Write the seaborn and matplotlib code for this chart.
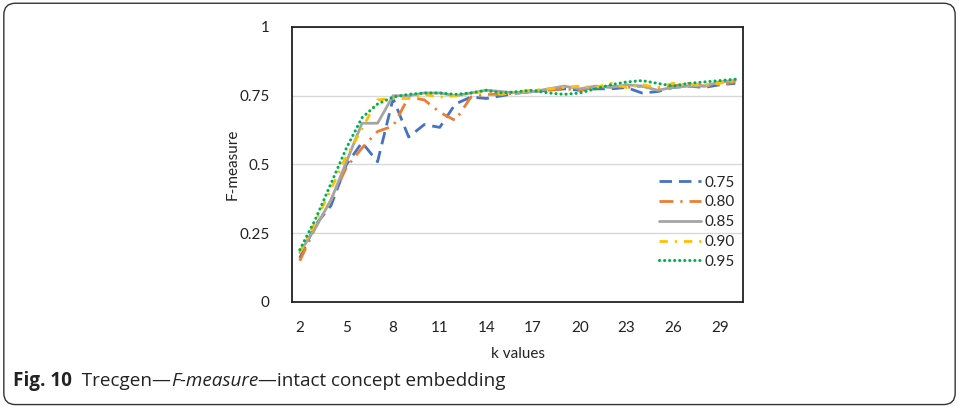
import matplotlib
matplotlib.use("Agg")
import matplotlib.pyplot as plt
from matplotlib.patches import FancyBboxPatch
import numpy as np
import pandas as pd
import seaborn as sns

# k values on the x axis
k_values = list(range(2, 31))

# F-measure per threshold
f_075 = [0.16, 0.28, 0.35, 0.50, 0.58, 0.51, 0.74, 0.60, 0.645, 0.635, 0.72, 0.745, 0.74, 0.75, 0.76,
         0.765, 0.77, 0.775, 0.77, 0.775, 0.775, 0.78, 0.76, 0.765, 0.78, 0.785, 0.78, 0.79, 0.795]
f_080 = [0.15, 0.27, 0.37, 0.49, 0.56, 0.62, 0.64, 0.745, 0.735, 0.69, 0.66, 0.745, 0.755, 0.755, 0.76,
         0.765, 0.77, 0.775, 0.77, 0.78, 0.785, 0.78, 0.785, 0.775, 0.785, 0.795, 0.785, 0.79, 0.80]
f_085 = [0.18, 0.27, 0.37, 0.51, 0.65, 0.65, 0.75, 0.75, 0.76, 0.76, 0.75, 0.76, 0.77, 0.765, 0.76,
         0.765, 0.775, 0.785, 0.775, 0.785, 0.78, 0.79, 0.785, 0.77, 0.78, 0.785, 0.785, 0.80, 0.805]
f_090 = [0.18, 0.29, 0.41, 0.53, 0.63, 0.735, 0.74, 0.74, 0.755, 0.745, 0.75, 0.76, 0.765, 0.755, 0.765,
         0.77, 0.775, 0.78, 0.785, 0.78, 0.795, 0.78, 0.79, 0.78, 0.795, 0.79, 0.79, 0.795, 0.805]
f_095 = [0.19, 0.30, 0.43, 0.56, 0.67, 0.72, 0.745, 0.755, 0.76, 0.76, 0.755, 0.76, 0.77, 0.76, 0.765,
         0.77, 0.76, 0.755, 0.76, 0.775, 0.79, 0.80, 0.805, 0.795, 0.785, 0.795, 0.80, 0.805, 0.81]

series_names = ["0.75", "0.80", "0.85", "0.90", "0.95"]
series_values = [f_075, f_080, f_085, f_090, f_095]

x_ticks = [2, 5, 8, 11, 14, 17, 20, 23, 26, 29]
y_ticks = [0, 0.25, 0.5, 0.75, 1]
y_tick_labels = ["0", "0.25", "0.5", "0.75", "1"]

colors = ["#4472C4", "#ED7D31", "#A5A5A5", "#FFC000", "#00B050"]
dash_patterns = [(4.5, 2.5), (5, 2.5, 0.8, 2.5), None, (3, 2.5, 0.8, 2.5), (0.05, 1.6)]

sns.set_theme(style="white")
plt.rcParams["font.family"] = ["Lato", "DejaVu Sans"]

fig = plt.figure(figsize=(9.59, 4.07), dpi=100)
ax = fig.add_axes([0.3045, 0.258, 0.4703, 0.6757])

df = pd.DataFrame({"k": k_values})
for name, vals in zip(series_names, series_values):
    df[name] = vals

long_df = df.melt(id_vars="k", var_name="threshold", value_name="F")

for name, col, dp in zip(series_names, colors, dash_patterns):
    sub = long_df[long_df["threshold"] == name]
    sns.lineplot(data=sub, x="k", y="F", ax=ax, color=col, linewidth=2.0,
                 label=name, legend=False)
    l = ax.lines[-1]
    if dp is not None:
        l.set_dashes(dp)
        if dp[0] < 0.2:
            l.set_dash_capstyle("round")
            l.set_linewidth(2.2)

ax.set_xlim(1.5, 30.5)
ax.set_ylim(0, 1)
ax.set_xticks(x_ticks)
ax.set_xticklabels([str(t) for t in x_ticks])
ax.set_yticks(y_ticks)
ax.set_yticklabels(y_tick_labels)
ax.tick_params(axis="both", length=0, labelsize=11, colors="#222222")
ax.tick_params(axis="y", pad=16)
ax.tick_params(axis="x", pad=14)
ax.grid(axis="y", color="#D9D9D9", linewidth=1.0)
ax.set_axisbelow(True)
for sp in ax.spines.values():
    sp.set_visible(True)
    sp.set_color("#222222")
    sp.set_linewidth(1.3)

ax.set_xlabel("k values", fontsize=11, color="#222222", labelpad=8)
ax.set_ylabel("F-measure", fontsize=11, color="#222222", labelpad=0)

handles, labels = ax.get_legend_handles_labels()
leg = ax.legend(handles, labels, loc="upper right", bbox_to_anchor=(0.995, 0.482),
                frameon=False, fontsize=11, handlelength=2.8, handletextpad=0.2,
                labelspacing=0.38, borderaxespad=0.0)

# figure frame with rounded corners
frame = FancyBboxPatch((0.004, 0.006), 0.992, 0.986, boxstyle="round,pad=0,rounding_size=0.012",
                       transform=fig.transFigure, fill=False, edgecolor="#333333",
                       linewidth=1.0, mutation_aspect=959 / 407)
fig.patches.append(frame)

# caption
cap_font = ["Open Sans", "DejaVu Sans"]
pieces = [("Fig. 10", "bold", "normal"), ("  Trecgen\u2014", "normal", "normal"),
          ("F-measure", "normal", "italic"), ("\u2014intact concept embedding", "normal", "normal")]
fig.canvas.draw()
renderer = fig.canvas.get_renderer()
x_px = 13
y_frac = 1 - 386 / 407
for text, weight, style in pieces:
    t = fig.text(x_px / 959, y_frac, text, fontsize=13.6, fontweight=weight, fontstyle=style,
                 family=cap_font, color="#222222", ha="left", va="baseline")
    bb = t.get_window_extent(renderer=renderer)
    x_px += bb.width

fig.savefig("out.png", dpi=100)
